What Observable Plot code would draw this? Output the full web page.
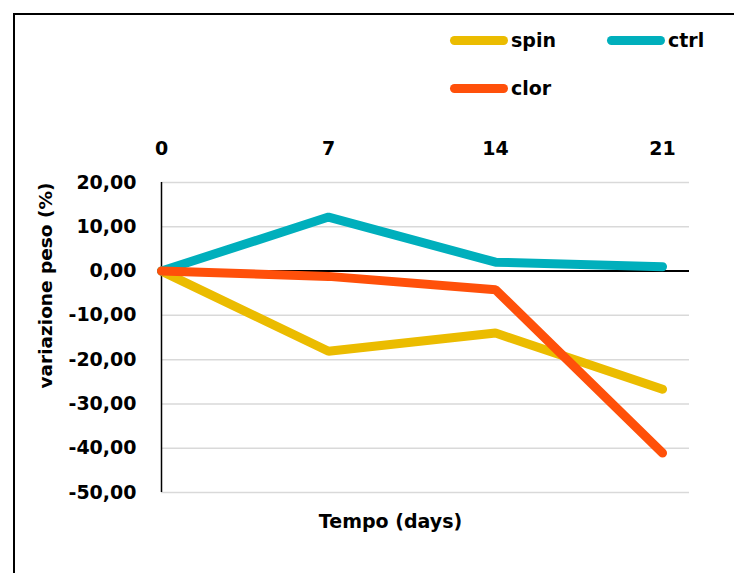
<!DOCTYPE html>
<html>
<head>
<meta charset="utf-8">
<script src="https://cdn.jsdelivr.net/npm/d3@7"></script>
<script src="https://cdn.jsdelivr.net/npm/@observablehq/plot@0.6"></script>
<style>
  html, body { margin: 0; padding: 0; background: #fff; }
  body { font-family: "DejaVu Sans", sans-serif; font-weight: bold; color: #000; }
  #wrap { position: relative; width: 734px; height: 573px; overflow: hidden; background: #fff; }
  #frame { position: absolute; left: 13px; top: 13px; width: 780px; height: 640px; border: 2px solid #000; box-sizing: border-box; pointer-events: none; }
  #legend { position: absolute; left: 0; top: 0; width: 734px; height: 120px; }
  .item { position: absolute; display: flex; align-items: center; font-size: 19px; line-height: 1; }
  .sw { width: 58px; height: 9px; border-radius: 5px; margin-right: 3px; }
  #chart { position: absolute; left: 0; top: 120px; }
</style>
</head>
<body>
<div id="wrap">
  <div id="legend"></div>
  <div id="chart"></div>
  <div id="frame"></div>
</div>
<script>
// Weight change (%) over time for each treatment
const days = [0, 7, 14, 21];
const seriesNames = ["spin", "ctrl", "clor"];
const seriesColors = ["#ebbc00", "#00afbc", "#ff500a"];
const spin = [0, -18.1, -14.0, -26.7];
const ctrl = [0, 12.2, 2.0, 1.0];
const clor = [0, -1.2, -4.2, -41.1];
const yTicks = [20, 10, 0, -10, -20, -30, -40, -50];
const xLabel = "Tempo (days)";
const yLabel = "variazione peso (%)";

const seriesValues = [spin, ctrl, clor];
const rows = seriesNames.map((name, i) =>
  days.map((d, j) => ({series: name, day: d, value: seriesValues[i][j]}))
);

const fmt = v => d3.format(".2f")(v).replace(".", ",").replace("\u2212", "-");

// Legend: two columns, wrapping to a second row
const legend = document.getElementById("legend");
const legendPos = [[450, 31], [607, 31], [450, 79]];
seriesNames.forEach((name, i) => {
  const item = document.createElement("div");
  item.className = "item";
  item.style.left = legendPos[i][0] + "px";
  item.style.top = legendPos[i][1] + "px";
  item.style.height = "19px";
  const sw = document.createElement("div");
  sw.className = "sw";
  sw.style.background = seriesColors[i];
  const label = document.createElement("span");
  label.textContent = name;
  item.appendChild(sw);
  item.appendChild(label);
  legend.appendChild(item);
});

const chart = Plot.plot({
  width: 734,
  height: 453,
  marginTop: 62,
  marginBottom: 81,
  marginLeft: 161,
  marginRight: 45,
  style: {fontFamily: "DejaVu Sans, sans-serif", fontSize: "19px", fontWeight: "bold", color: "#000", background: "transparent"},
  x: {domain: [0, 22.13]},
  y: {domain: [-50, 20]},
  marks: [
    Plot.gridY(yTicks, {stroke: "#d9d9d9", strokeOpacity: 1, strokeWidth: 1.5}),
    Plot.ruleY([0], {stroke: "#000", strokeWidth: 2}),
    Plot.ruleX([0], {stroke: "#000", strokeWidth: 1.5}),
    ...rows.map((data, i) =>
      Plot.lineY(data, {
        x: "day", y: "value",
        stroke: seriesColors[i], strokeWidth: 9,
        strokeLinecap: "round", strokeLinejoin: "miter"
      })
    ),
    Plot.axisX(days, {anchor: "top", tickSize: 0, tickPadding: 28, label: null, tickFormat: d => String(d)}),
    Plot.axisY(yTicks, {anchor: "left", tickSize: 0, tickPadding: 25, label: null, tickFormat: fmt}),
    Plot.text([xLabel], {frameAnchor: "bottom", text: d => d, dx: -35, dy: 29, lineAnchor: "middle", fontSize: 19, fontWeight: "bold"}),
    Plot.text([yLabel], {frameAnchor: "left", text: d => d, rotate: -90, dx: -115, dy: -52, textAnchor: "middle", lineAnchor: "middle", fontSize: 18.5, fontWeight: "bold"})
  ]
});
document.getElementById("chart").appendChild(chart);
</script>
</body>
</html>
